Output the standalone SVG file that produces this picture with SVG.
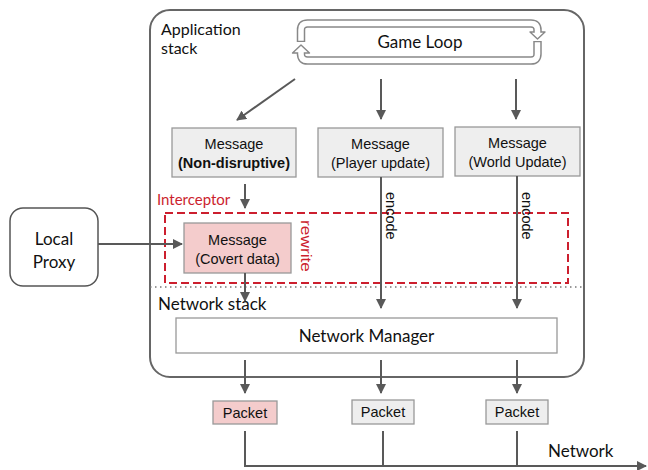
<svg xmlns="http://www.w3.org/2000/svg" width="648" height="470" viewBox="0 0 648 470">
<style>
.lato{font-family:Lato,"Liberation Sans",sans-serif;fill:#111}
.ar{font-family:"Liberation Sans",Arial,sans-serif;fill:#111;font-size:14.5px}
.box{fill:#eeeeee;stroke:#999;stroke-width:1.3}
.pink{fill:#f4cccc;stroke:#999;stroke-width:1.3}
.ln{stroke:#595959;stroke-width:2;fill:none}
.band{fill:none;stroke:#888;stroke-width:8.5}
.bandw{fill:none;stroke:#fff;stroke-width:5.5}
</style>
<defs>
<marker id="ah" viewBox="0 0 10 10" refX="9" refY="5" markerWidth="5" markerHeight="5" orient="auto" markerUnits="strokeWidth">
<path d="M0,0 L10,5 L0,10 z" fill="#595959"/>
</marker>
</defs>
<rect width="648" height="470" fill="#fff"/>

<g id="app-stack">
<rect x="150" y="10" width="434" height="367" rx="20" fill="#fff" stroke="#666" stroke-width="2"/>
<text class="lato" x="161" y="35" font-size="16">Application</text>
<text class="lato" x="161" y="54" font-size="16">stack</text>
<line x1="150" y1="287" x2="584" y2="287" stroke="#777" stroke-width="1.5" stroke-dasharray="1.5,3.5"/>
<text class="lato" x="158" y="310" font-size="17">Network stack</text>
</g>

<g id="game-loop">
<path class="band" d="M301 42 V30 Q301 23.5 307.5 23.5 H531 Q537.5 23.5 537.5 30 V32.5"/>
<polygon points="530,32 545,32 537.5,39" fill="#fff" stroke="#888" stroke-width="1.4" stroke-linejoin="round"/>
<path class="bandw" d="M301 40.8 V30 Q301 23.5 307.5 23.5 H531 Q537.5 23.5 537.5 30 V33.2"/>
<path class="band" d="M537.5 41 V54 Q537.5 60.5 531 60.5 H307.5 Q301 60.5 301 54 V52.5"/>
<polygon points="292.5,53 309.5,53 301,45" fill="#fff" stroke="#888" stroke-width="1.4" stroke-linejoin="round"/>
<path class="bandw" d="M537.5 42.2 V54 Q537.5 60.5 531 60.5 H307.5 Q301 60.5 301 54 V52"/>
<text class="lato" x="420" y="48" font-size="17" text-anchor="middle">Game Loop</text>
</g>

<g id="msg-nondisruptive">
<rect class="box" x="172" y="128" width="124" height="49"/>
<text class="ar" x="234" y="149" text-anchor="middle">Message</text>
<text class="ar" x="234" y="168" text-anchor="middle" font-weight="bold">(Non-disruptive)</text>
</g>
<g id="msg-player">
<rect class="box" x="318" y="128" width="125" height="49"/>
<text class="ar" x="380.5" y="149" text-anchor="middle">Message</text>
<text class="ar" x="380.5" y="168" text-anchor="middle">(Player update)</text>
</g>
<g id="msg-world">
<rect class="box" x="455" y="127" width="125" height="49"/>
<text class="ar" x="517.5" y="148" text-anchor="middle">Message</text>
<text class="ar" x="517.5" y="167" text-anchor="middle">(World Update)</text>
</g>

<g id="interceptor">
<rect x="165" y="213" width="403" height="70" fill="none" stroke="#cc1f2e" stroke-width="2" stroke-dasharray="8,4"/>
<text class="lato" x="157" y="205" font-size="15" style="fill:#cc1f2e">Interceptor</text>
</g>

<g id="msg-covert">
<rect class="pink" x="184" y="223" width="107" height="50"/>
<text class="ar" x="237.5" y="245" text-anchor="middle">Message</text>
<text class="ar" x="237.5" y="264" text-anchor="middle">(Covert data)</text>
<text class="ar" transform="translate(301,220) rotate(90)" style="fill:#cc1f2e" font-size="16" textLength="52" lengthAdjust="spacingAndGlyphs">rewrite</text>
</g>

<g id="local-proxy">
<rect x="10" y="208" width="88" height="78" rx="13" fill="#fff" stroke="#555" stroke-width="1.5"/>
<text class="lato" x="54" y="245" font-size="17" text-anchor="middle">Local</text>
<text class="lato" x="54" y="268" font-size="17" text-anchor="middle">Proxy</text>
</g>

<g id="network-manager">
<rect x="176" y="318" width="381" height="35" fill="#fff" stroke="#999" stroke-width="1.3"/>
<text class="lato" x="366.5" y="342" font-size="17" text-anchor="middle">Network Manager</text>
</g>

<g id="packet-1">
<rect class="pink" x="213" y="401" width="64" height="23"/>
<text class="ar" x="245" y="418" text-anchor="middle">Packet</text>
</g>
<g id="packet-2">
<rect class="box" x="352" y="400" width="62" height="24"/>
<text class="ar" x="383" y="417" text-anchor="middle">Packet</text>
</g>
<g id="packet-3">
<rect class="box" x="486" y="400" width="62" height="24"/>
<text class="ar" x="517" y="417" text-anchor="middle">Packet</text>
</g>

<g id="connectors">
<line class="ln" x1="295" y1="79" x2="237" y2="120" marker-end="url(#ah)"/>
<line class="ln" x1="381" y1="79" x2="381" y2="119" marker-end="url(#ah)"/>
<line class="ln" x1="516" y1="79" x2="516" y2="119" marker-end="url(#ah)"/>
<line class="ln" x1="245" y1="184" x2="245" y2="208" marker-end="url(#ah)"/>
<line class="ln" x1="381" y1="177" x2="381" y2="308" marker-end="url(#ah)"/>
<line class="ln" x1="517" y1="176" x2="517" y2="308" marker-end="url(#ah)"/>
<text class="ar" transform="translate(386,192) rotate(90)" font-size="15">encode</text>
<text class="ar" transform="translate(522,192) rotate(90)" font-size="15">encode</text>
<line class="ln" x1="98" y1="244" x2="182" y2="244" marker-end="url(#ah)"/>
<line class="ln" x1="245" y1="273" x2="245" y2="301" marker-end="url(#ah)"/>
<line class="ln" x1="245" y1="360" x2="245" y2="393" marker-end="url(#ah)"/>
<line class="ln" x1="381" y1="360" x2="381" y2="393" marker-end="url(#ah)"/>
<line class="ln" x1="517" y1="360" x2="517" y2="393" marker-end="url(#ah)"/>
<path class="ln" d="M245 431 V466 H646" marker-end="url(#ah)"/>
<line class="ln" x1="383" y1="431" x2="383" y2="466"/>
<line class="ln" x1="517" y1="431" x2="517" y2="466"/>
<text class="lato" x="548" y="457" font-size="17">Network</text>
</g>
</svg>
